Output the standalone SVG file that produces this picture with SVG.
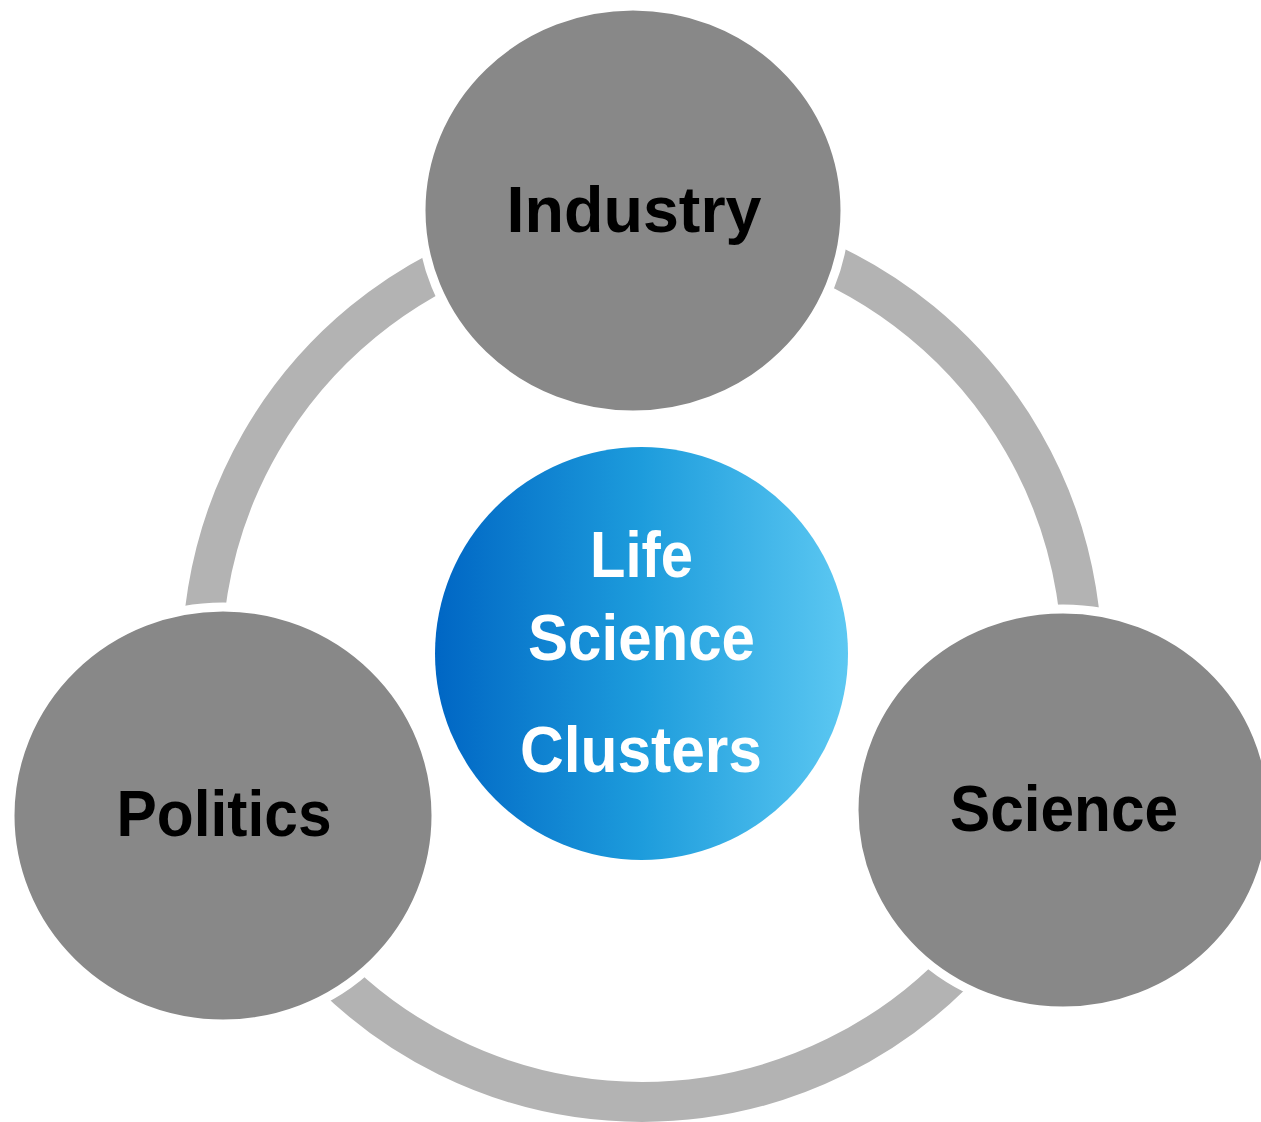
<svg xmlns="http://www.w3.org/2000/svg" width="1261" height="1122" viewBox="0 0 1261 1122">
<style>
.arc{fill:none;stroke:#b3b3b3;stroke-width:40;stroke-linecap:butt}
.node{fill:#888888;stroke:#ffffff;stroke-width:9}
.lbl{font-family:"Liberation Sans",Arial,sans-serif;font-weight:bold;font-size:64px;fill:#000000;text-anchor:middle}
.ctr{font-family:"Liberation Sans",Arial,sans-serif;font-weight:bold;font-size:64px;fill:#ffffff;text-anchor:middle}
</style>
<defs>
<linearGradient id="blue" x1="0" y1="0" x2="1" y2="0">
<stop offset="0" stop-color="#0066c4"/>
<stop offset="0.5" stop-color="#1d9cdc"/>
<stop offset="1" stop-color="#5cc8f2"/>
</linearGradient>
</defs>
<rect width="1261" height="1122" fill="#ffffff"/>
<g id="connectors">
<path class="arc" d="M491.5,248.5 A440,440 0 0 0 208.7,738.4"/>
<path class="arc" d="M305,944.8 A440,440 0 0 0 979,944.8"/>
<path class="arc" d="M1075.3,738.4 A440,440 0 0 0 792.5,248.5"/>
</g>
<g id="industry">
<ellipse class="node" cx="633" cy="210.5" rx="212" ry="204.5"/>
<text class="lbl" x="634" y="232" textLength="255" lengthAdjust="spacingAndGlyphs">Industry</text>
</g>
<g id="politics">
<ellipse class="node" cx="223" cy="815.5" rx="213" ry="208.5"/>
<text class="lbl" x="224" y="836" textLength="215" lengthAdjust="spacingAndGlyphs">Politics</text>
</g>
<g id="science">
<ellipse class="node" cx="1063" cy="810" rx="209" ry="201"/>
<text class="lbl" x="1064" y="831" textLength="228" lengthAdjust="spacingAndGlyphs">Science</text>
</g>
<g id="center">
<circle cx="641.5" cy="653.5" r="206.5" fill="url(#blue)"/>
<text class="ctr" x="641.5" y="577" textLength="103" lengthAdjust="spacingAndGlyphs">Life</text>
<text class="ctr" x="641.5" y="660" textLength="227" lengthAdjust="spacingAndGlyphs">Science</text>
<text class="ctr" x="641" y="772" textLength="242" lengthAdjust="spacingAndGlyphs">Clusters</text>
</g>
</svg>
